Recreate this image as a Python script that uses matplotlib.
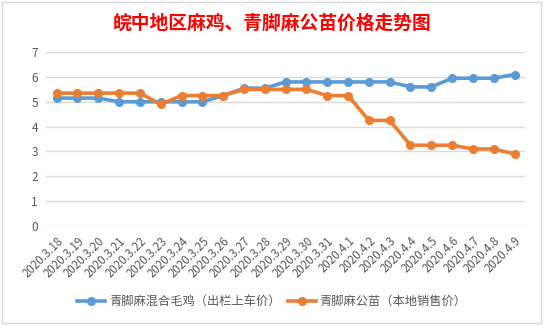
import matplotlib.pyplot as plt
from matplotlib.patches import Rectangle

plt.rcParams['font.family'] = ['Noto Sans CJK SC', 'DejaVu Sans']

dates = ['2020.3.18', '2020.3.19', '2020.3.20', '2020.3.21', '2020.3.22', '2020.3.23',
         '2020.3.24', '2020.3.25', '2020.3.26', '2020.3.27', '2020.3.28', '2020.3.29',
         '2020.3.30', '2020.3.31', '2020.4.1', '2020.4.2', '2020.4.3', '2020.4.4',
         '2020.4.5', '2020.4.6', '2020.4.7', '2020.4.8', '2020.4.9']
chicken = [5.15, 5.15, 5.15, 5.0, 5.0, 5.0, 5.0, 5.0, 5.25, 5.55, 5.55, 5.8,
           5.8, 5.8, 5.8, 5.8, 5.8, 5.6, 5.6, 5.95, 5.95, 5.95, 6.1]
chick = [5.35, 5.35, 5.35, 5.35, 5.35, 4.9, 5.25, 5.25, 5.25, 5.5, 5.5, 5.5,
         5.5, 5.25, 5.25, 4.25, 4.25, 3.25, 3.25, 3.25, 3.1, 3.1, 2.9]
labels = ['青脚麻混合毛鸡（出栏上车价）', '青脚麻公苗（本地销售价）']

fig = plt.figure(figsize=(5.44, 3.26), dpi=100)
ax = fig.add_axes([0.085, 0.307, 0.88, 0.533])

x = range(len(dates))
ax.plot(x, chicken, color='#5B9BD5', lw=2.6, marker='o', ms=5.5, label=labels[0])
ax.plot(x, chick, color='#ED7D31', lw=2.6, marker='o', ms=5.5, label=labels[1])

ax.set_xlim(-0.5, len(dates) - 0.5)
ax.set_ylim(0, 7)
ax.set_yticks(range(8))
ax.grid(axis='y', color='#D9D9D9', lw=1)
ax.set_axisbelow(True)
for s in ax.spines.values():
    s.set_visible(False)
ax.tick_params(length=0, colors='#595959', labelsize=8.5, pad=6)
ax.set_xticks(list(x))
ax.set_xticklabels(dates, rotation=45, ha='right', rotation_mode='anchor', fontsize=8.3)

fig.text(0.5, 0.93, '皖中地区麻鸡、青脚麻公苗价格走势图', ha='center', va='center',
         color='red', fontsize=13.5, fontweight='bold')
fig.legend(loc='center', bbox_to_anchor=(0.5, 0.075), ncol=2, frameon=False,
           fontsize=8.8, handlelength=2.3, columnspacing=0.6, handletextpad=0.3,
           labelcolor='#595959')
fig.patches.append(Rectangle((0.004, 0.01), 0.99, 0.985, transform=fig.transFigure,
                             fill=False, ec='#D9D9D9', lw=1))

fig.savefig('out.png', dpi=100)
